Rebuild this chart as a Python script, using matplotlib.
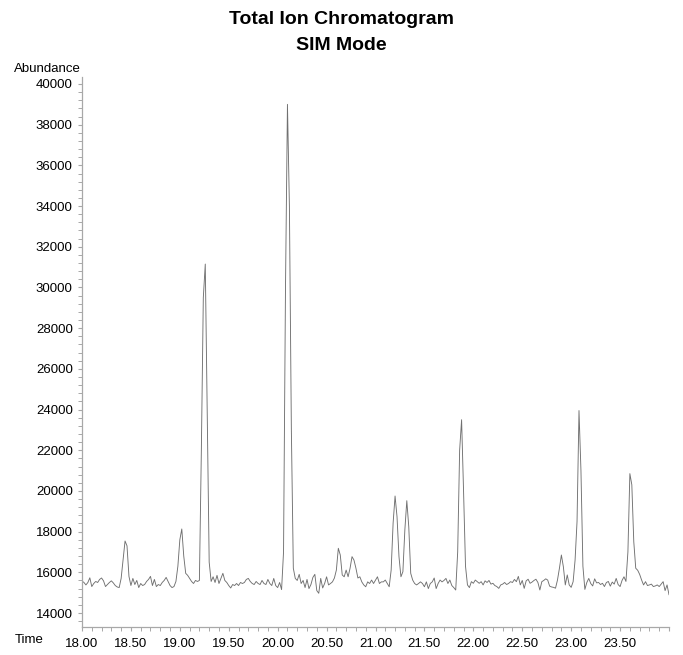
import numpy as np
import matplotlib
matplotlib.use("Agg")
import matplotlib.pyplot as plt
from matplotlib.ticker import MultipleLocator, FuncFormatter

plt.rcParams["font.family"] = ["Liberation Sans", "DejaVu Sans"]

# Scan timing (minutes) and total ion abundance per scan
scan_start = 18.00
scan_step = 0.02
abundance = [
    15570, 15500, 15380, 15500, 15730, 15300, 15450, 15550, 15500, 15650,
    15720, 15580, 15300, 15400, 15500, 15580, 15480, 15350, 15280, 15250,
    15700, 16600, 17540, 17300, 15800, 15350, 15700, 15400, 15600, 15250,
    15450, 15350, 15400, 15550, 15650, 15800, 15350, 15650, 15300, 15400,
    15350, 15500, 15600, 15750, 15550, 15350, 15250, 15300, 15550, 16300,
    17600, 18130, 16800, 15950, 15850, 15700, 15550, 15450, 15600, 15550,
    15600, 22000, 29500, 31150, 24000, 16500, 15550, 15780, 15500, 15850,
    15450, 15700, 15950, 15600, 15500, 15350, 15230, 15400, 15350, 15450,
    15350, 15500, 15450, 15500, 15650, 15700, 15550, 15450, 15400, 15550,
    15450, 15400, 15600, 15450, 15400, 15650, 15450, 15350, 15700, 15350,
    15250, 15500, 15150, 17000, 30000, 39000, 34000, 23000, 16200, 15700,
    15600, 15900, 15450, 15600, 15250, 15650, 15200, 15400, 15750, 15900,
    15100, 14970, 15700, 15230, 15450, 15780, 15380, 15450, 15530, 15720,
    16110, 17180, 16850, 15870, 15780, 16110, 15780, 16200, 16770, 16600,
    16200, 15720, 15780, 15530, 15380, 15290, 15530, 15450, 15620, 15450,
    15620, 15780, 15450, 15530, 15530, 15620, 15450, 15290, 16110, 18420,
    19750, 18730, 16770, 15780, 16030, 18080, 19520, 18240, 15950, 15620,
    15450, 15380, 15450, 15530, 15450, 15290, 15530, 15200, 15450, 15530,
    15720, 15200, 15450, 15620, 15530, 15600, 15700, 15450, 15620, 15350,
    15250, 15130, 17000, 22000, 23500, 20000, 16300, 15380, 15250, 15540,
    15460, 15620, 15540, 15460, 15540, 15380, 15580, 15500, 15600, 15420,
    15460, 15350, 15300, 15210, 15380, 15420, 15500, 15400, 15450, 15540,
    15500, 15650, 15540, 15800, 15380, 15600, 15210, 15580, 15660, 15460,
    15520, 15600, 15660, 15500, 15130, 15540, 15600, 15680, 15620, 15320,
    15280, 15260, 15220, 15620, 16200, 16850, 16280, 15380, 15870, 15380,
    15260, 15540, 16600, 18500, 23950, 21000, 16300, 15160, 15500, 15700,
    15450, 15330, 15680, 15480, 15500, 15400, 15460, 15300, 15500, 15550,
    15320, 15520, 15420, 15700, 15400, 15300, 15600, 15780, 15550, 17000,
    20850, 20300, 17500, 16200, 16100, 15900, 15620, 15380, 15540, 15350,
    15380, 15420, 15300, 15330, 15380, 15300, 15420, 15540, 15100, 15380,
    14900,
]
time = scan_start + scan_step * np.arange(len(abundance))

title_lines = ["Total Ion Chromatogram", "SIM Mode"]
x_label = "Time"
y_label = "Abundance"

W, H = 683, 655
fig = plt.figure(figsize=(W / 100, H / 100), dpi=100)
ax = fig.add_axes([82 / W, 1 - 627 / H, (669 - 82) / W, (627 - 77) / H])

ax.plot(time, abundance, color="#707070", lw=0.65)

ax.set_xlim(18.0, 24.0)
ax.set_ylim(13312, 40344)

ax.xaxis.set_major_locator(MultipleLocator(0.5))
ax.xaxis.set_minor_locator(MultipleLocator(0.1))
ax.yaxis.set_major_locator(MultipleLocator(2000))
ax.yaxis.set_minor_locator(MultipleLocator(400))

ax.xaxis.set_major_formatter(
    FuncFormatter(lambda v, p: "" if v > 23.9 else f"{v:.2f}"))
ax.yaxis.set_major_formatter(FuncFormatter(lambda v, p: f"{v:.0f}"))

for side in ("top", "right"):
    ax.spines[side].set_visible(False)
for side in ("left", "bottom"):
    ax.spines[side].set_color("#a8a8a8")
    ax.spines[side].set_linewidth(0.9)

ax.tick_params(axis="both", which="major", direction="out", length=3.2,
               width=0.8, color="#a8a8a8", labelsize=9.5, pad=3.5,
               labelcolor="black")
ax.tick_params(axis="both", which="minor", direction="out", length=2.6,
               width=0.7, color="#a8a8a8")
ax.tick_params(axis="x", which="major", pad=4.5)

fig.text(0.5, 1 - 19 / H, title_lines[0], ha="center", va="center",
         fontsize=14, fontweight="bold")
fig.text(0.5, 1 - 45 / H, title_lines[1], ha="center", va="center",
         fontsize=14, fontweight="bold")
fig.text(14 / W, 1 - 69 / H, y_label, ha="left", va="center", fontsize=9.5)
fig.text(15 / W, 1 - 640 / H, x_label, ha="left", va="center", fontsize=9.5)

fig.savefig("out.png", dpi=100)
